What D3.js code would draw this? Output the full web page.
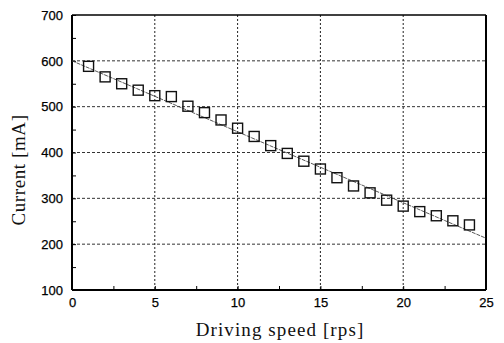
<!DOCTYPE html>
<html>
<head>
<meta charset="utf-8">
<script src="https://cdn.jsdelivr.net/npm/d3@7"></script>
<style>
  body { margin: 0; background: #fff; }
  .tick text { font-family: "Liberation Sans", Arial, sans-serif; font-size: 13px; fill: #000; stroke: #000; stroke-width: 0.25px; }
  .lbl { font-family: "Liberation Serif", "Times New Roman", serif; fill: #111; }
</style>
</head>
<body>
<script>
// data
var speed = [1, 2, 3, 4, 5, 6, 7, 8, 9, 10, 11, 12, 13, 14, 15, 16, 17, 18, 19, 20, 21, 22, 23, 24];
var current = [588, 565, 550, 536, 524, 522, 501, 487, 471, 453, 435, 415, 398, 381, 364, 345, 327, 312, 296, 283, 271, 262, 251, 242];
var fitLine = [[0, 600], [25, 213]];
var xTicks = [0, 5, 10, 15, 20, 25];
var yTicks = [100, 200, 300, 400, 500, 600, 700];

var w = 504, h = 343;
var margin = {top: 15, right: 18, bottom: 53, left: 72};
var width = w - margin.left - margin.right,
    height = h - margin.top - margin.bottom;

var svg = d3.select("body").append("svg")
    .attr("width", w)
    .attr("height", h);
var g = svg.append("g").attr("transform", "translate(" + margin.left + "," + margin.top + ")");

var x = d3.scaleLinear().domain([0, 25]).range([0, width]);
var y = d3.scaleLinear().domain([100, 700]).range([height, 0]);

// grid
g.selectAll(".vgrid")
    .data(xTicks.slice(1, -1)).enter()
    .append("line")
    .attr("x1", d => x(d)).attr("x2", d => x(d))
    .attr("y1", 0).attr("y2", height)
    .attr("stroke", "#222").attr("stroke-width", 1)
    .attr("stroke-dasharray", "2,2");
g.selectAll(".hgrid")
    .data(yTicks.slice(1, -1)).enter()
    .append("line")
    .attr("x1", 0).attr("x2", width)
    .attr("y1", d => y(d)).attr("y2", d => y(d))
    .attr("stroke", "#333").attr("stroke-width", 1)
    .attr("stroke-dasharray", "3,2");

// axes with minor ticks pointing inwards
var xAxis = g.append("g")
    .attr("transform", "translate(0," + height + ")")
    .call(d3.axisBottom(x).tickValues(xTicks).tickSize(0).tickPadding(8));
xAxis.select(".domain").remove();
g.append("g")
    .attr("transform", "translate(0," + height + ")")
    .call(d3.axisTop(x).tickValues(d3.range(0, 25.1, 2.5)).tickSize(4).tickFormat(""))
    .select(".domain").remove();

var yAxis = g.append("g")
    .call(d3.axisLeft(y).tickValues(yTicks).tickSize(0).tickPadding(9));
yAxis.select(".domain").remove();
g.append("g")
    .call(d3.axisRight(y).tickValues(d3.range(100, 701, 50)).tickSize(4).tickFormat(""))
    .select(".domain").remove();

// frame
g.append("line").attr("x1", 0).attr("x2", 0).attr("y1", 0).attr("y2", height)
    .attr("stroke", "#000").attr("stroke-width", 2);
g.append("line").attr("x1", 0).attr("x2", width).attr("y1", height).attr("y2", height)
    .attr("stroke", "#000").attr("stroke-width", 2);
g.append("line").attr("x1", width).attr("x2", width).attr("y1", 0).attr("y2", height)
    .attr("stroke", "#000").attr("stroke-width", 2);
g.append("line").attr("x1", 0).attr("x2", width).attr("y1", 0).attr("y2", 0)
    .attr("stroke", "#000").attr("stroke-width", 1.5);

// fit line
var line = d3.line().x(d => x(d[0])).y(d => y(d[1]));
g.append("path")
    .datum(fitLine)
    .attr("d", line)
    .attr("fill", "none")
    .attr("stroke", "#444")
    .attr("stroke-width", 0.9)
    .attr("stroke-dasharray", "4,1");

// markers
var s = 10;
g.selectAll(".pt")
    .data(speed).enter()
    .append("rect")
    .attr("x", (d, i) => x(d) - s / 2)
    .attr("y", (d, i) => y(current[i]) - s / 2)
    .attr("width", s).attr("height", s)
    .attr("fill", "none")
    .attr("stroke", "#111")
    .attr("stroke-width", 1.4);

// labels
svg.append("text")
    .attr("class", "lbl")
    .attr("x", 280)
    .attr("y", 336)
    .attr("text-anchor", "middle")
    .style("font-size", "19px")
    .style("letter-spacing", "1.1px")
    .text("Driving speed [rps]");

svg.append("text")
    .attr("class", "lbl")
    .attr("transform", "translate(25,170) rotate(-90)")
    .attr("text-anchor", "middle")
    .style("font-size", "19px")
    .style("letter-spacing", "0.6px")
    .text("Current [mA]");
</script>
</body>
</html>
